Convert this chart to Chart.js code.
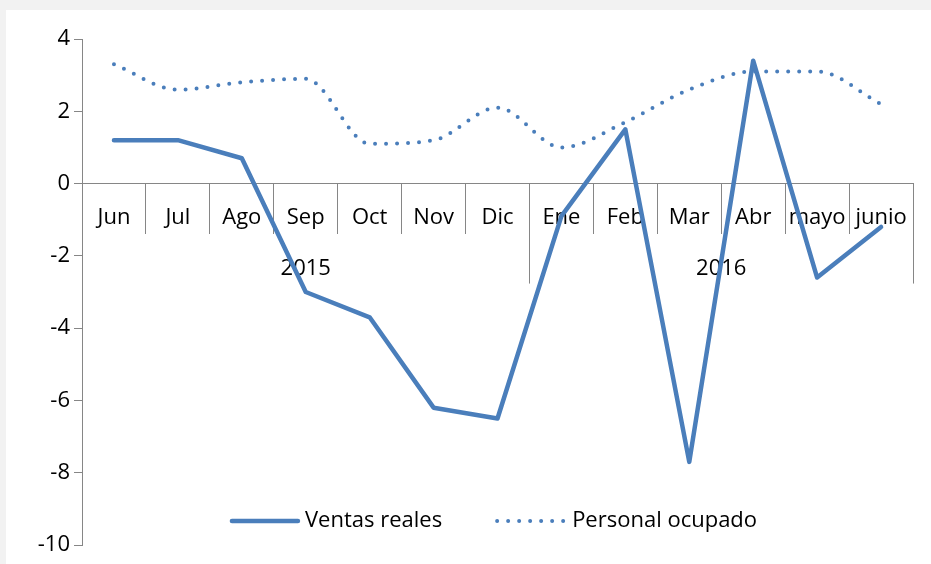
<!DOCTYPE html>
<html><head><meta charset="utf-8">
<script src="https://cdn.jsdelivr.net/npm/chart.js@4/dist/chart.umd.min.js"></script>
<style>
html,body{margin:0;padding:0;background:#f2f2f2;width:931px;height:564px;overflow:hidden;}
#panel{position:absolute;left:6px;top:10px;width:925px;height:554px;background:#fff;}
canvas{display:block;}
</style></head><body>
<div id="panel"><canvas id="c" width="925" height="554"></canvas></div>
<script>
// ---- data ----
const months = ['Jun','Jul','Ago','Sep','Oct','Nov','Dic','Ene','Feb','Mar','Abr','mayo','junio'];
const years = ['2015','2015','2015','2015','2015','2015','2015','2016','2016','2016','2016','2016','2016'];
const ventasReales = [1.2, 1.2, 0.7, -3.0, -3.7, -6.2, -6.5, -0.9, 1.5, -7.7, 3.4, -2.6, -1.2];
const personalOcupado = [3.3, 2.6, 2.8, 2.9, 1.1, 1.2, 2.1, 1.0, 1.7, 2.6, 3.1, 3.1, 2.2];
const yTickValues = [-10, -8, -6, -4, -2, 0, 2, 4];
const seriesNames = ['Ventas reales', 'Personal ocupado'];

// ---- style ----
const FONT_FAMILY = "'Open Sans', sans-serif";
const FONT_SIZE = 22;
const AXIS_GRAY = '#868686';
const BLUE = '#4a7ebb';

const yearGroups = {
  id: 'yearGroups',
  beforeDatasetsDraw(chart) {
    const xs = chart.scales.x, ys = chart.scales.y, ctx = chart.ctx;
    const y0 = ys.getPixelForValue(0);
    const half = (xs.getPixelForValue(1) - xs.getPixelForValue(0)) / 2;
    ctx.save();
    ctx.strokeStyle = AXIS_GRAY; ctx.lineWidth = 1;
    ctx.font = FONT_SIZE + 'px ' + FONT_FAMILY;
    ctx.fillStyle = '#000'; ctx.textAlign = 'center'; ctx.textBaseline = 'middle';
    let start = 0;
    for (let i = 1; i <= years.length; i++) {
      if (i === years.length || years[i] !== years[start]) {
        const left = xs.getPixelForValue(start) - half;
        const right = xs.getPixelForValue(i - 1) + half;
        const sx = Math.round(right) + 0.5;
        ctx.beginPath(); ctx.moveTo(sx, y0); ctx.lineTo(sx, y0 + 100); ctx.stroke();
        ctx.fillText(years[start], (left + right) / 2, y0 + 85);
        start = i;
      }
    }
    ctx.restore();
  }
};

const insideLegend = {
  id: 'insideLegend',
  afterDatasetsDraw(chart) {
    const ctx = chart.ctx, area = chart.chartArea;
    ctx.save();
    ctx.font = FONT_SIZE + 'px ' + FONT_FAMILY;
    const sample = 70, gap = 5, itemGap = 55;
    const items = chart.data.datasets.map(ds => ({ ds, w: sample + gap + ctx.measureText(ds.label).width }));
    const total = items.reduce((s, it) => s + it.w, 0) + itemGap * (items.length - 1);
    let x = (area.left + area.right) / 2 - total / 2 - 4;
    const yc = area.bottom - 24;
    items.forEach(it => {
      ctx.beginPath();
      ctx.strokeStyle = it.ds.borderColor; ctx.lineWidth = it.ds.borderWidth; ctx.lineCap = 'round';
      ctx.setLineDash(it.ds.borderDash || []);
      const inset = (it.ds.borderDash && it.ds.borderDash.length) ? 0 : 2;
      ctx.moveTo(x + inset, yc); ctx.lineTo(x + sample - inset, yc); ctx.stroke();
      ctx.setLineDash([]);
      ctx.fillStyle = '#000'; ctx.textAlign = 'left'; ctx.textBaseline = 'middle';
      ctx.fillText(it.ds.label, x + sample + gap, yc);
      x += it.w + itemGap;
    });
    ctx.restore();
  }
};

new Chart(document.getElementById('c'), {
  type: 'line',
  data: {
    labels: months,
    datasets: [
      { label: seriesNames[0], data: ventasReales, borderColor: BLUE, backgroundColor: BLUE,
        borderWidth: 4.5, pointRadius: 0, tension: 0, borderJoinStyle: 'round', borderCapStyle: 'round', fill: false },
      { label: seriesNames[1], data: personalOcupado, borderColor: BLUE, backgroundColor: BLUE,
        borderWidth: 4, pointRadius: 0, cubicInterpolationMode: 'monotone', borderDash: [0, 11], borderCapStyle: 'round', fill: false }
    ]
  },
  options: {
    responsive: false,
    animation: false,
    layout: { padding: { top: 29, right: 18, bottom: 19, left: 0 } },
    plugins: { legend: { display: false }, tooltip: { enabled: false } },
    scales: {
      x: {
        type: 'category',
        position: { y: 0 },
        offset: true,
        grid: { offset: true, drawOnChartArea: false, drawTicks: true, tickLength: 50, color: AXIS_GRAY, lineWidth: 1 },
        border: { display: true, color: AXIS_GRAY, width: 1 },
        ticks: { font: { family: FONT_FAMILY, size: FONT_SIZE }, color: '#000', padding: -29, maxRotation: 0, autoSkip: false }
      },
      y: {
        type: 'linear',
        min: -10, max: 4,
        afterBuildTicks: s => { s.ticks = yTickValues.map(v => ({ value: v })); },
        afterFit: s => { s.width = 76; },
        grid: { drawOnChartArea: false, drawTicks: true, tickLength: 8, color: AXIS_GRAY, lineWidth: 1 },
        border: { display: true, color: AXIS_GRAY, width: 1 },
        ticks: { font: { family: FONT_FAMILY, size: FONT_SIZE }, color: '#000', padding: 4 }
      }
    }
  },
  plugins: [yearGroups, insideLegend]
});
</script>
</body></html>
